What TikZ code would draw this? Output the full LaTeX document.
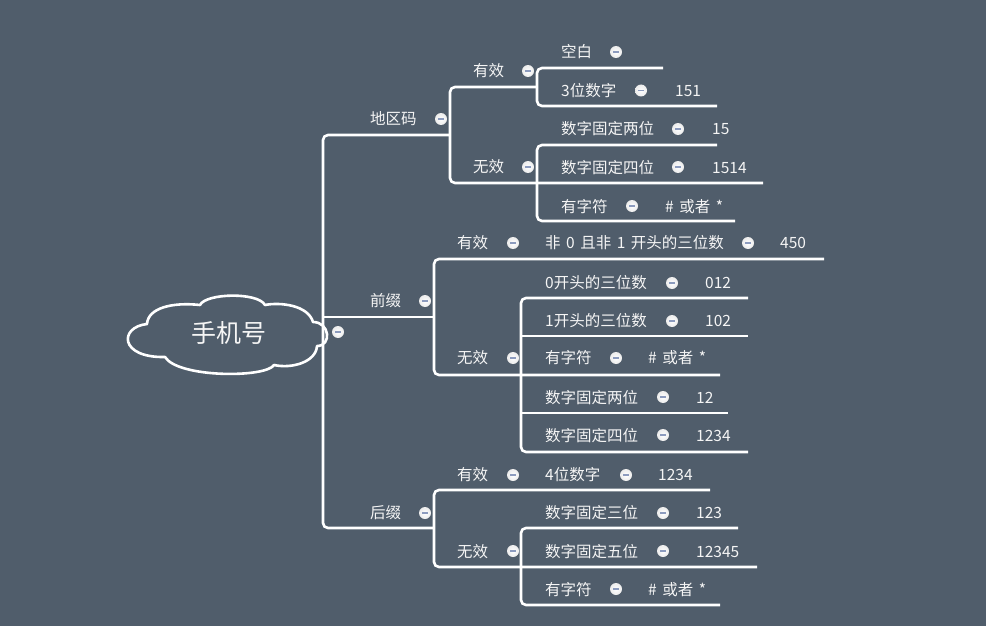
\documentclass[tikz,border=0pt]{standalone}
\usepackage{fontspec}
\setmainfont{Noto Sans CJK SC}
\definecolor{bg}{RGB}{80,93,107}
\definecolor{btnline}{RGB}{140,155,190}
\definecolor{txt}{RGB}{245,245,245}
\newcommand{\gap}{\hspace{5.5pt}}
\begin{document}
\begin{tikzpicture}[x=1pt,y=-1pt,
  ln/.style={draw=white, line width=2.6pt, rounded corners=5pt},
  lbl/.style={anchor=base west, inner sep=0pt, text=txt, font=\fontsize{15.5}{18}\selectfont},
  btn/.style={circle, inner sep=0pt, minimum size=12pt, inner color=white, outer color=white!85!gray,
    path picture={\draw[btnline, line width=1.3pt]
      ([xshift=-3pt]path picture bounding box.center) -- ([xshift=3pt]path picture bounding box.center);}}
  ]
\fill[bg] (0,0) rectangle (986,626);
\useasboundingbox (0,0) rectangle (986,626);

% ---------- connectors ----------
% trunk
\draw[ln] (450,135) -- (323,135) -- (323,528) -- (434,528);
\draw[ln] (323,317) -- (434,317);
% 地区码
\draw[ln] (537,87) -- (450,87) -- (450,183) -- (763,183);
\draw[ln] (663,68) -- (537,68) -- (537,106) -- (717,106);
\draw[ln] (717,145) -- (537,145) -- (537,221) -- (735,221);
% 前缀
\draw[ln] (824,259) -- (434,259) -- (434,375) -- (720,375);
\draw[ln] (748,298) -- (521,298) -- (521,452) -- (748,452);
\draw[ln] (521,336) -- (748,336);
\draw[ln] (521,413) -- (728,413);
% 后缀
\draw[ln] (710,490) -- (434,490) -- (434,567) -- (757,567);
\draw[ln] (738,528) -- (521,528) -- (521,605) -- (720,605);

% ---------- root cloud ----------
\draw[white, line width=2.6pt, line join=round]
  (147,324) .. controls (148,308) and (172,302) .. (200,305)
            .. controls (206,293) and (258,292) .. (265,305)
            .. controls (280,302) and (308,305) .. (313,322)
            .. controls (330,322) and (332,346) .. (317,346)
            .. controls (316,362) and (292,369) .. (274,365)
            .. controls (266,378) and (178,378) .. (165,357)
            .. controls (119,358) and (119,327) .. cycle;
\node[anchor=base, inner sep=0pt, text=txt, font=\fontsize{25}{28}\selectfont] (root) at (229,342) {手机号};
\node[btn] (b0) at (338,332) {};

% ---------- level 1 ----------
\node[lbl] (dqm) at (370,124.5) {地区码};
\node[lbl] (qz)  at (370,306.5) {前缀};
\node[lbl] (hz)  at (370,518.5) {后缀};
\node[btn] (bdqm) at (441,119) {};
\node[btn] (bqz)  at (425,301) {};
\node[btn] (bhz)  at (425,513) {};

% ---------- level 2 ----------
\node[lbl] (dyx) at (473,76.5) {有效};
\node[lbl] (dwx) at (473,172.5) {无效};
\node[lbl] (qyx) at (457,248.5) {有效};
\node[lbl] (qwx) at (457,363.5) {无效};
\node[lbl] (hyx) at (457,480.5) {有效};
\node[lbl] (hwx) at (457,557) {无效};
\node[btn] (bdyx) at (528,71) {};
\node[btn] (bdwx) at (528,167) {};
\node[btn] (bqyx) at (513,243) {};
\node[btn] (bqwx) at (513,358) {};
\node[btn] (bhyx) at (513,475) {};
\node[btn] (bhwx) at (513,551) {};

% ---------- level 3 : 地区码 ----------
\node[lbl] (d1) at (561,57.5) {空白};
\node[lbl] (d2) at (561,96.5) {3位数字};
\node[lbl] (d3) at (561,135) {数字固定两位};
\node[lbl] (d4) at (561,173) {数字固定四位};
\node[lbl] (d5) at (561,212) {有字符};
\node[btn] (bd1) at (616,52) {};
\node[btn] (bd2) at (641,90.5) {};
\node[btn] (bd3) at (678,129) {};
\node[btn] (bd4) at (678,167) {};
\node[btn] (bd5) at (632,206) {};
\node[lbl] (v2) at (675,96.5) {151};
\node[lbl] (v3) at (712,135) {15};
\node[lbl] (v4) at (712,173) {1514};
\node[lbl] (v5) at (665,212) {\#\gap 或者\gap *};

% ---------- level 3 : 前缀 ----------
\node[lbl] (q1) at (545,248.5) {非\gap 0\gap 且非\gap 1\gap 开头的三位数};
\node[lbl] (q2) at (545,288.5) {0开头的三位数};
\node[lbl] (q3) at (545,326.5) {1开头的三位数};
\node[lbl] (q4) at (545,363.5) {有字符};
\node[lbl] (q5) at (545,403) {数字固定两位};
\node[lbl] (q6) at (545,441) {数字固定四位};
\node[btn] (bq1) at (748,243) {};
\node[btn] (bq2) at (672,283) {};
\node[btn] (bq3) at (672,321) {};
\node[btn] (bq4) at (616,358) {};
\node[btn] (bq5) at (663,397) {};
\node[btn] (bq6) at (663,435) {};
\node[lbl] (w1) at (780,248.5) {450};
\node[lbl] (w2) at (705,288.5) {012};
\node[lbl] (w3) at (705,326.5) {102};
\node[lbl] (w4) at (648,363.5) {\#\gap 或者\gap *};
\node[lbl] (w5) at (696,403) {12};
\node[lbl] (w6) at (696,441) {1234};

% ---------- level 3 : 后缀 ----------
\node[lbl] (h1) at (545,480.5) {4位数字};
\node[lbl] (h2) at (545,518.5) {数字固定三位};
\node[lbl] (h3) at (545,557) {数字固定五位};
\node[lbl] (h4) at (545,595) {有字符};
\node[btn] (bh1) at (626,475) {};
\node[btn] (bh2) at (663,513) {};
\node[btn] (bh3) at (663,551) {};
\node[btn] (bh4) at (616,589) {};
\node[lbl] (u1) at (658,480.5) {1234};
\node[lbl] (u2) at (696,518.5) {123};
\node[lbl] (u3) at (696,557) {12345};
\node[lbl] (u4) at (648,595) {\#\gap 或者\gap *};
\end{tikzpicture}
\end{document}
